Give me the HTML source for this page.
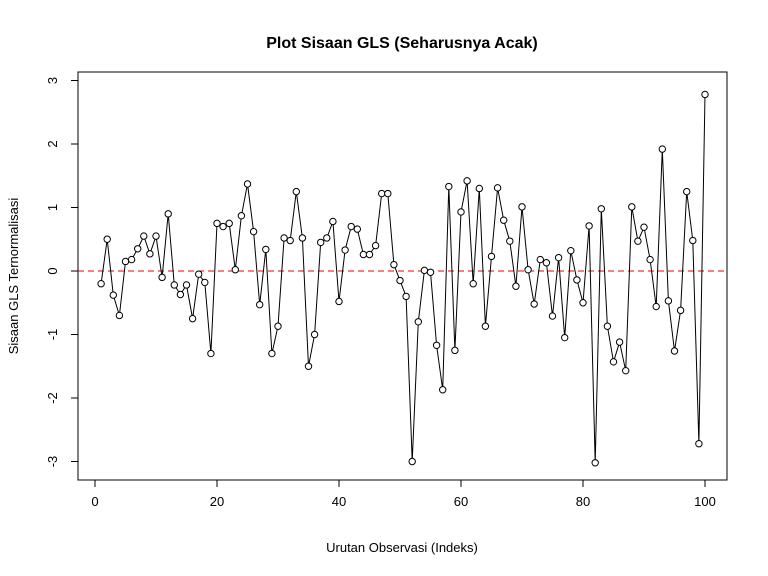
<!DOCTYPE html>
<html><head><meta charset="utf-8"><style>
body{margin:0;background:#fff}
svg{display:block;font-family:"Liberation Sans",Arial,sans-serif}
</style></head><body>
<svg id="chart" width="768" height="576" viewBox="0 0 768 576" xmlns="http://www.w3.org/2000/svg">
<rect width="768" height="576" fill="#fff"/>
<text x="402" y="48" text-anchor="middle" font-size="16" font-weight="bold">Plot Sisaan GLS (Seharusnya Acak)</text>
<text x="402" y="552" text-anchor="middle" font-size="13">Urutan Observasi (Indeks)</text>
<text transform="translate(18,276) rotate(-90)" text-anchor="middle" font-size="13">Sisaan GLS Ternormalisasi</text>
<rect x="78" y="72" width="649" height="408" fill="none" stroke="#000"/>
<g id="axes"></g>
<g id="marks"></g>
</svg>
<script>
const residuals=[-0.2,0.5,-0.38,-0.7,0.15,0.18,0.35,0.55,0.27,0.55,-0.1,0.9,-0.22,-0.37,-0.22,-0.75,-0.05,-0.18,-1.3,0.75,0.7,0.75,0.02,0.87,1.37,0.62,-0.53,0.34,-1.3,-0.87,0.52,0.48,1.25,0.52,-1.5,-1.0,0.45,0.52,0.78,-0.48,0.33,0.7,0.66,0.26,0.26,0.4,1.22,1.22,0.1,-0.15,-0.4,-3.0,-0.8,0.01,-0.02,-1.17,-1.87,1.33,-1.25,0.93,1.42,-0.2,1.3,-0.87,0.23,1.31,0.8,0.47,-0.24,1.01,0.02,-0.52,0.18,0.13,-0.71,0.21,-1.05,0.32,-0.14,-0.5,0.71,-3.02,0.98,-0.87,-1.43,-1.12,-1.57,1.01,0.47,0.69,0.18,-0.56,1.92,-0.47,-1.26,-0.62,1.25,0.48,-2.72,2.78];
const xTicks=[0,20,40,60,80,100];
const yTicks=[-3,-2,-1,0,1,2,3];
const NS="http://www.w3.org/2000/svg";
function X(v){return 95+v*6.1;}
function Y(v){return 271-v*63.5;}
function mk(tag,attrs,parent){const e=document.createElementNS(NS,tag);for(const k in attrs)e.setAttribute(k,attrs[k]);parent.appendChild(e);return e;}
const axes=document.getElementById('axes'),marks=document.getElementById('marks');
xTicks.forEach(t=>{
  const l=mk('line',{x1:X(t),x2:X(t),y1:480,y2:487,stroke:'#000'},axes);
  
  
  const tx=mk('text',{x:X(t),y:506,'text-anchor':'middle','font-size':13},axes);
  tx.textContent=t;
  
  
});
yTicks.forEach(t=>{
  const l=mk('line',{x1:71,x2:78,y1:Y(t),y2:Y(t),stroke:'#000'},axes);
  
  
  const tx=mk('text',{x:0,y:0,'text-anchor':'middle','font-size':13,transform:`translate(57,${Y(t)}) rotate(-90)`},axes);
  tx.textContent=t;
  
  
});
const zl=mk('line',{x1:78,x2:727,y1:Y(0),y2:Y(0),stroke:'#e00','stroke-dasharray':'6,4'},marks);


const pts=residuals.map((v,i)=>X(i+1).toFixed(1)+','+Y(v).toFixed(1)).join(' ');
const pl=mk('polyline',{points:pts,fill:'none',stroke:'#000','stroke-width':1},marks);


residuals.forEach((v,i)=>{
  const c=mk('circle',{cx:X(i+1),cy:Y(v),r:3.2,fill:'#fff',stroke:'#000'},marks);
  
  
});
</script>
</body></html>
